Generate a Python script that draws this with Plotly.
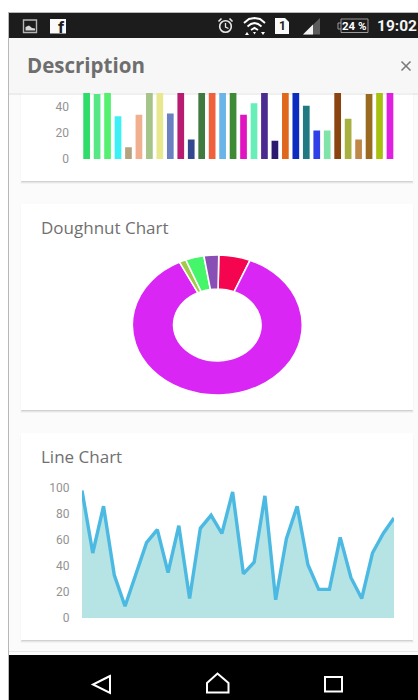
import plotly.graph_objects as go

# ---- data ----
series_values = [98, 50, 86, 33, 9, 34, 58, 68, 35, 71, 15, 69, 79, 65, 97,
                 34, 43, 94, 14, 61, 86, 41, 22, 22, 62, 31, 15, 50, 65, 77]
bar_colors = ["#2fdc6a", "#55e884", "#55f070", "#3cf0f5", "#b5a280", "#f0b090",
              "#a5c488", "#e8e88f", "#6a80c0", "#b81c70", "#34488f", "#3f7a3f",
              "#f0603c", "#6ab4e8", "#3f8a35", "#e014c0", "#68eeb8", "#4c2b90",
              "#2c1a70", "#e0681c", "#0a2cc0", "#1f7a84", "#3040e8", "#80e4a8",
              "#8a4410", "#a8b040", "#c08848", "#9a6a20", "#a8c010", "#e020e0"]
donut_labels = ["A", "B", "C", "D", "E"]
donut_values = [6.0, 86.4, 1.3, 3.5, 2.8]
donut_colors = ["#f5054f", "#d926f5", "#a3c84a", "#45f56a", "#8a4fb5"]
bar_ticks = [0, 20, 40]
line_ticks = [0, 20, 40, 60, 80, 100]

W, H = 418, 700
FONT = "Roboto"
TITLE_FONT = "Open Sans"


def fx(x):
    return x / W


def fy(y):
    return 1 - y / H


def dom_x(a, b):
    return [fx(a), fx(b)]


def dom_y(top, bottom):
    return [fy(bottom), fy(top)]


shapes = []
annots = []


def rect(x0, y0, x1, y1, fill, line=None, lw=0, layer="below"):
    shapes.append(dict(type="rect", xref="paper", yref="paper", layer=layer,
                       x0=fx(x0), x1=fx(x1), y0=fy(y0), y1=fy(y1),
                       fillcolor=fill, line=dict(color=line or fill, width=lw)))


def path(pts, stroke=None, fill=None, lw=1.5, closed=False):
    d = "M" + " L".join(f"{fx(x):.5f},{fy(y):.5f}" for x, y in pts)
    if closed:
        d += " Z"
    shapes.append(dict(type="path", xref="paper", yref="paper", layer="below", path=d,
                       fillcolor=fill or "rgba(0,0,0,0)",
                       line=dict(color=stroke or "rgba(0,0,0,0)", width=lw)))


def circle(cx, cy, rx, ry=None, stroke=None, fill=None, lw=1.5):
    ry = ry or rx
    shapes.append(dict(type="circle", xref="paper", yref="paper", layer="below",
                       x0=fx(cx - rx), x1=fx(cx + rx), y0=fy(cy + ry), y1=fy(cy - ry),
                       fillcolor=fill or "rgba(0,0,0,0)",
                       line=dict(color=stroke or "rgba(0,0,0,0)", width=lw)))


def text(x, y, s, size, color, anchor="left", bold=False, family=FONT):
    annots.append(dict(xref="paper", yref="paper", x=fx(x), y=fy(y), text=f"<b>{s}</b>" if bold else s,
                       showarrow=False, xanchor=anchor, yanchor="middle",
                       borderpad=0, font=dict(family=family, size=size, color=color)))


def card(x0, y0, x1, y1):
    for i, a in ((3, 0.03), (2, 0.05), (1, 0.09)):
        rect(x0 + 1 - i * 0.5, y0 + 3, x1 - 1 + i * 0.5, y1 + i, f"rgba(0,0,0,{a})")
    rect(x0, y0, x1, y1, "#ffffff")


# ---- page frame ----
rect(9, 13, W, 655, "#fbfbfb")
rect(8, 12, 9, 700, "#b8b8b8")
rect(8, 12, W, 13, "#b8b8b8")
card(21, 60, 413, 181)
card(21, 204, 413, 410)
card(21, 433, 413, 640)
rect(9, 651, W, 652, "#e6e6e6")

# header
rect(9, 93, W, 95, "rgba(0,0,0,0.06)")
rect(9, 38, W, 93, "#f7f7f7")
text(26, 65.5, "Description", 20.5, "#6e6e6e", bold=True, family=TITLE_FONT)
path([(401.5, 61.5), (410.5, 70.5)], stroke="#7a7a7a", lw=1.6)
path([(401.5, 70.5), (410.5, 61.5)], stroke="#7a7a7a", lw=1.6)

# status bar
rect(9, 13, W, 38, "#1c1c1c")
rect(23.5, 20, 36.5, 32.5, "rgba(0,0,0,0)", line="#b5b5b5", lw=1.4)
path([(25.5, 30.5), (25.5, 27), (29, 25.5), (32, 28), (35, 28.5), (35, 30.5)], fill="#d8d8d8", closed=True)
rect(50, 19, 66, 33.5, "#fafafa")
text(61, 27, "f", 17, "#1c1c1c", anchor="center", bold=True)
circle(225.5, 26.5, 5.8, stroke="#e8e8e8", lw=1.6)
path([(225.5, 23), (225.5, 27), (228.5, 28.5)], stroke="#e8e8e8", lw=1.3)
path([(218.5, 21.5), (221.5, 18.5)], stroke="#e8e8e8", lw=1.6)
path([(232.5, 21.5), (229.5, 18.5)], stroke="#e8e8e8", lw=1.6)
path([(244, 23), (249, 19), (254.5, 18), (260, 19), (265, 23)], stroke="#ffffff", lw=2)
path([(247.5, 26.5), (251, 24), (254.5, 23), (258, 24), (261.5, 26.5)], stroke="#ffffff", lw=2)
path([(251, 30), (254.5, 28), (258, 30)], stroke="#ffffff", lw=2)
path([(253, 32), (256, 32), (254.5, 34.5)], fill="#ffffff", closed=True)
path([(245, 35), (247, 32), (249, 35)], fill="#ffffff", closed=True)
path([(261, 32), (265, 32), (263, 35)], fill="#ffffff", closed=True)
path([(275, 18), (285, 18), (289, 22), (289, 34), (275, 34)], fill="#fafafa", closed=True)
text(282, 26.5, "1", 12, "#1c1c1c", anchor="center", bold=True)
path([(303, 34.5), (320, 18), (320, 34.5)], fill="#5c5c5c", closed=True)
path([(303, 34.5), (313, 24.5), (313, 34.5)], fill="#f2f2f2", closed=True)
path([(341, 19), (368, 19), (368, 32.5), (341, 32.5)], stroke="#9a9a9a", lw=1, closed=True)
path([(341, 23), (338, 23), (338, 29), (341, 29)], stroke="#9a9a9a", lw=1)
text(354.5, 26, "24 %", 11.5, "#ffffff", anchor="center", bold=True)
text(417.5, 26.5, "19:02", 15.5, "#f5f5f5", anchor="right", bold=True)

# nav bar
rect(9, 655, W, H, "#000000")
path([(110, 676), (93, 684.5), (110, 693)], stroke="#ffffff", lw=2, closed=True)
path([(207, 683), (217.5, 673.5), (228.5, 683), (228.5, 692.5), (207, 692.5)], stroke="#ffffff", lw=2, closed=True)
rect(325, 677, 342, 691.5, "rgba(0,0,0,0)", line="#ffffff", lw=2)

# card titles
text(40, 227.5, "Doughnut Chart", 17, "#707070", family=TITLE_FONT)
text(40, 456.5, "Line Chart", 17, "#707070", family=TITLE_FONT)

categories = list(range(len(series_values)))
fig = go.Figure()
fig.add_trace(go.Bar(x=categories, y=series_values, marker=dict(color=bar_colors, line_width=0),
                     xaxis="x", yaxis="y", hoverinfo="skip", showlegend=False))
fig.add_trace(go.Scatter(x=categories, y=series_values, mode="lines", xaxis="x2", yaxis="y2",
                         fill="tozeroy", fillcolor="#b6e4e5",
                         line=dict(color="#4cb9e2", width=3.4), hoverinfo="skip", showlegend=False))
fig.add_trace(go.Pie(labels=donut_labels, values=donut_values, sort=False, direction="clockwise",
                     rotation=1, hole=0.515, textinfo="none", hoverinfo="skip", showlegend=False,
                     marker=dict(colors=donut_colors, line=dict(color="#ffffff", width=1.6)),
                     domain=dict(x=dom_x(132.3, 302.3), y=dom_y(240, 410))))

tick_font = dict(family=FONT, size=12, color="#939393")
common_x = dict(showgrid=False, zeroline=False, showticklabels=False, showline=False, ticks="", automargin=False)
common_y = dict(showgrid=False, zeroline=False, showline=False, ticks="outside", ticklen=9, automargin=False,
                tickcolor="rgba(0,0,0,0)", tickfont=tick_font)

fig.update_layout(
    width=W, height=H, autosize=False, margin=dict(l=0, r=0, t=0, b=0, pad=0),
    paper_bgcolor="#ffffff", plot_bgcolor="rgba(0,0,0,0)", bargap=0.36,
    shapes=shapes, annotations=annots,
    xaxis=dict(domain=dom_x(81.4, 395.2), range=[-0.5, 29.5], anchor="y", **common_x),
    yaxis=dict(domain=dom_y(93, 159), range=[0, 50.8], anchor="x", tickvals=bar_ticks, **common_y),
    xaxis2=dict(domain=dom_x(82, 394), range=[0, 29], anchor="y2", **common_x),
    yaxis2=dict(domain=dom_y(488, 618), range=[0, 100], anchor="x2", tickvals=line_ticks, **common_y),
)

squash = ("document.body.style.margin='0';document.body.style.overflow='hidden';"
          "document.querySelectorAll('.pielayer').forEach(function(g){"
          "g.setAttribute('transform','translate(0,325) scale(1,0.8235) translate(0,-325)');});")
fig.write_html("out.html", config=dict(staticPlot=True), post_script=squash)
